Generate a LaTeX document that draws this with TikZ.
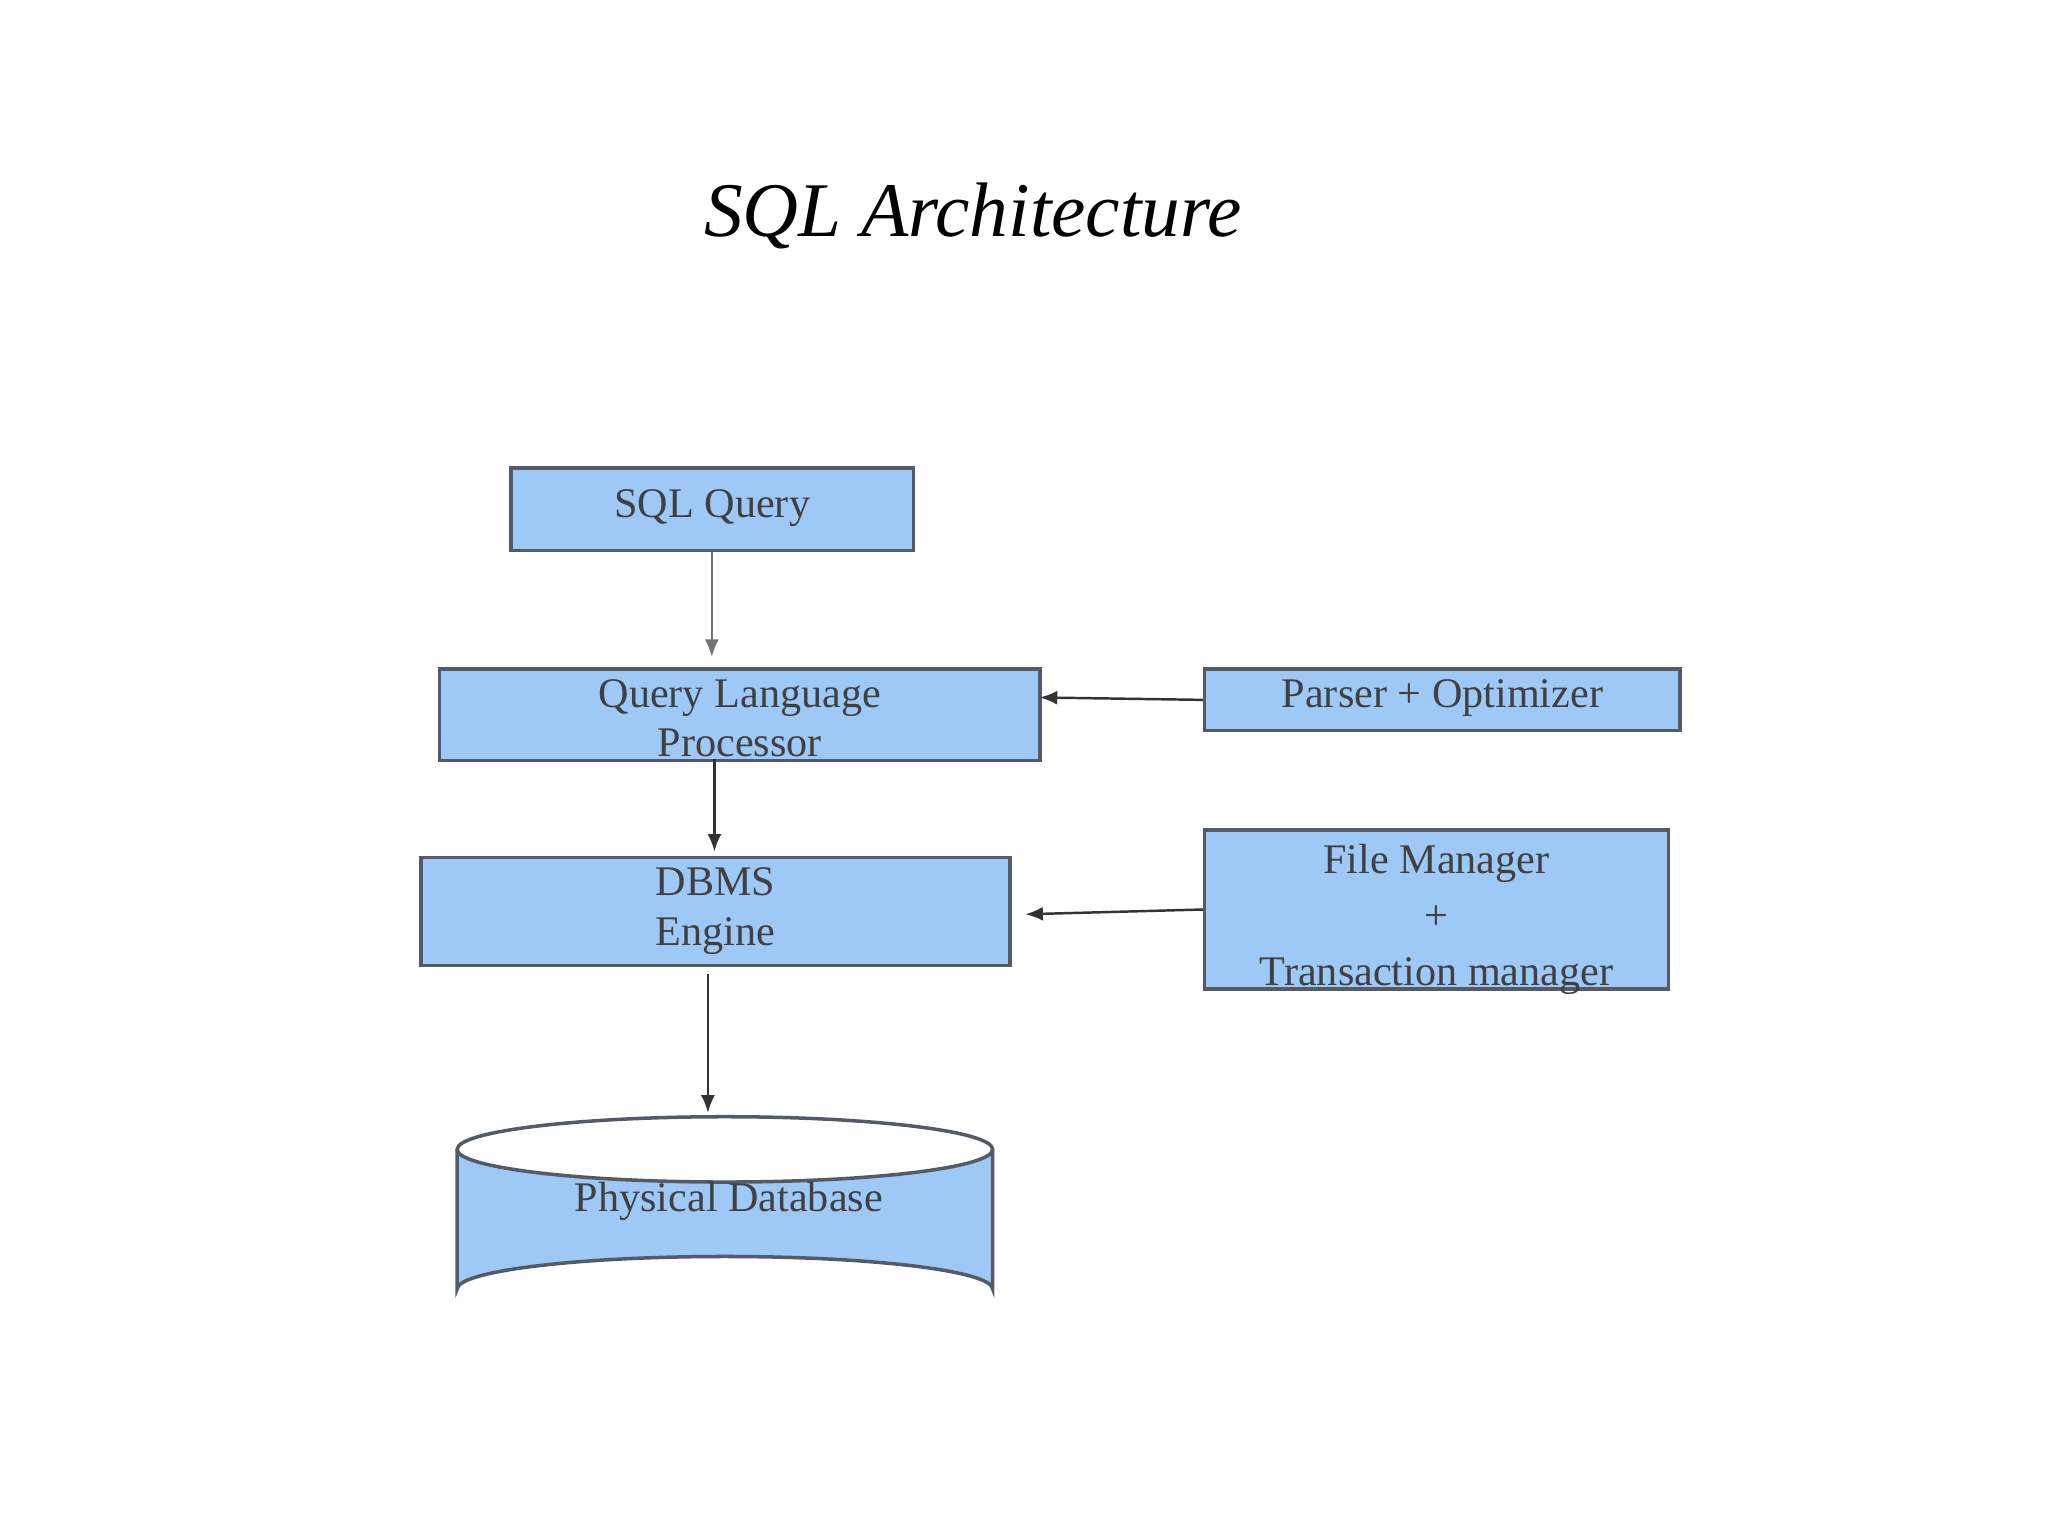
\documentclass[tikz,border=0pt]{standalone}
\usepackage{fontspec}
\setmainfont{Liberation Serif}
\usetikzlibrary{arrows.meta}
\definecolor{boxblue}{HTML}{9EC8F5}
\definecolor{edgegray}{HTML}{555B66}
\begin{document}
\begin{tikzpicture}[x=0.01306cm,y=-0.01306cm,
  box/.style={draw=edgegray,line width=1pt,fill=boxblue,inner sep=0pt,font=\fontsize{12}{13}\selectfont,text=black!75,align=center},
  arr/.style={-{Latex[length=5pt,width=4pt]},line width=0.7pt,draw=black!80}]
\useasboundingbox (0,0) rectangle (1568,1176);
\node[font=\itshape\fontsize{22}{26}\selectfont] (title) at (745,165) {SQL Architecture};
\node[box,minimum width=308*0.01306cm,minimum height=63*0.01306cm,anchor=north west] (sql) at (390,357) {};
\node[anchor=north,font=\fontsize{12}{13}\selectfont,text=black!75] at (sql.north) [yshift=-3pt] {SQL Query};
\node[box,minimum width=460*0.01306cm,minimum height=70*0.01306cm,anchor=north west] (qlp) at (335,511) {};
\node[anchor=north,font=\fontsize{12}{14}\selectfont,text=black!75,align=center] at (qlp.north) [yshift=0pt] {Query Language\\Processor};
\node[box,minimum width=364*0.01306cm,minimum height=47*0.01306cm,anchor=north west] (par) at (921,511) {};
\node[anchor=north,font=\fontsize{12}{13}\selectfont,text=black!75] at (par.north) [yshift=0pt] {Parser + Optimizer};
\node[box,minimum width=451*0.01306cm,minimum height=83*0.01306cm,anchor=north west] (dbms) at (321,655) {};
\node[anchor=north,font=\fontsize{12}{14}\selectfont,text=black!75,align=center] at (dbms.north) [yshift=0pt] {DBMS\\Engine};
\node[box,minimum width=355*0.01306cm,minimum height=122*0.01306cm,anchor=north west] (fm) at (921,634) {};
\node[anchor=north,font=\fontsize{12}{16}\selectfont,text=black!75,align=center] at (fm.north) [yshift=-1pt] {File Manager\\+\\Transaction manager};
% cylinder
\fill[boxblue] (350,880) -- (350,987) arc[start angle=180,end angle=360,x radius=205,y radius=25] -- (760,880) arc[start angle=0,end angle=180,x radius=205,y radius=25] -- cycle;
\draw[edgegray,line width=1pt] (350,880) -- (350,987) arc[start angle=180,end angle=360,x radius=205,y radius=25] -- (760,880);
\draw[edgegray,line width=1pt] (555,880) ellipse[x radius=205,y radius=25];
\coordinate (cyltop) at (542,852);
\node[font=\fontsize{12}{13}\selectfont,text=black!75] (pdb) at (558,920) {Physical Database};
\coordinate (a1) at (545,428);
\draw[arr,draw=black!55] (a1) -- (sql.south -| a1) ++(0,0) -- (545,503);
\draw[arr] (547,581) -- (547,652);
\draw[arr] (542,746) -- (cyltop);
\draw[arr] (par.west) -- (796,534);
\draw[arr] (fm.west) -- (785,700);
\end{tikzpicture}
\end{document}
